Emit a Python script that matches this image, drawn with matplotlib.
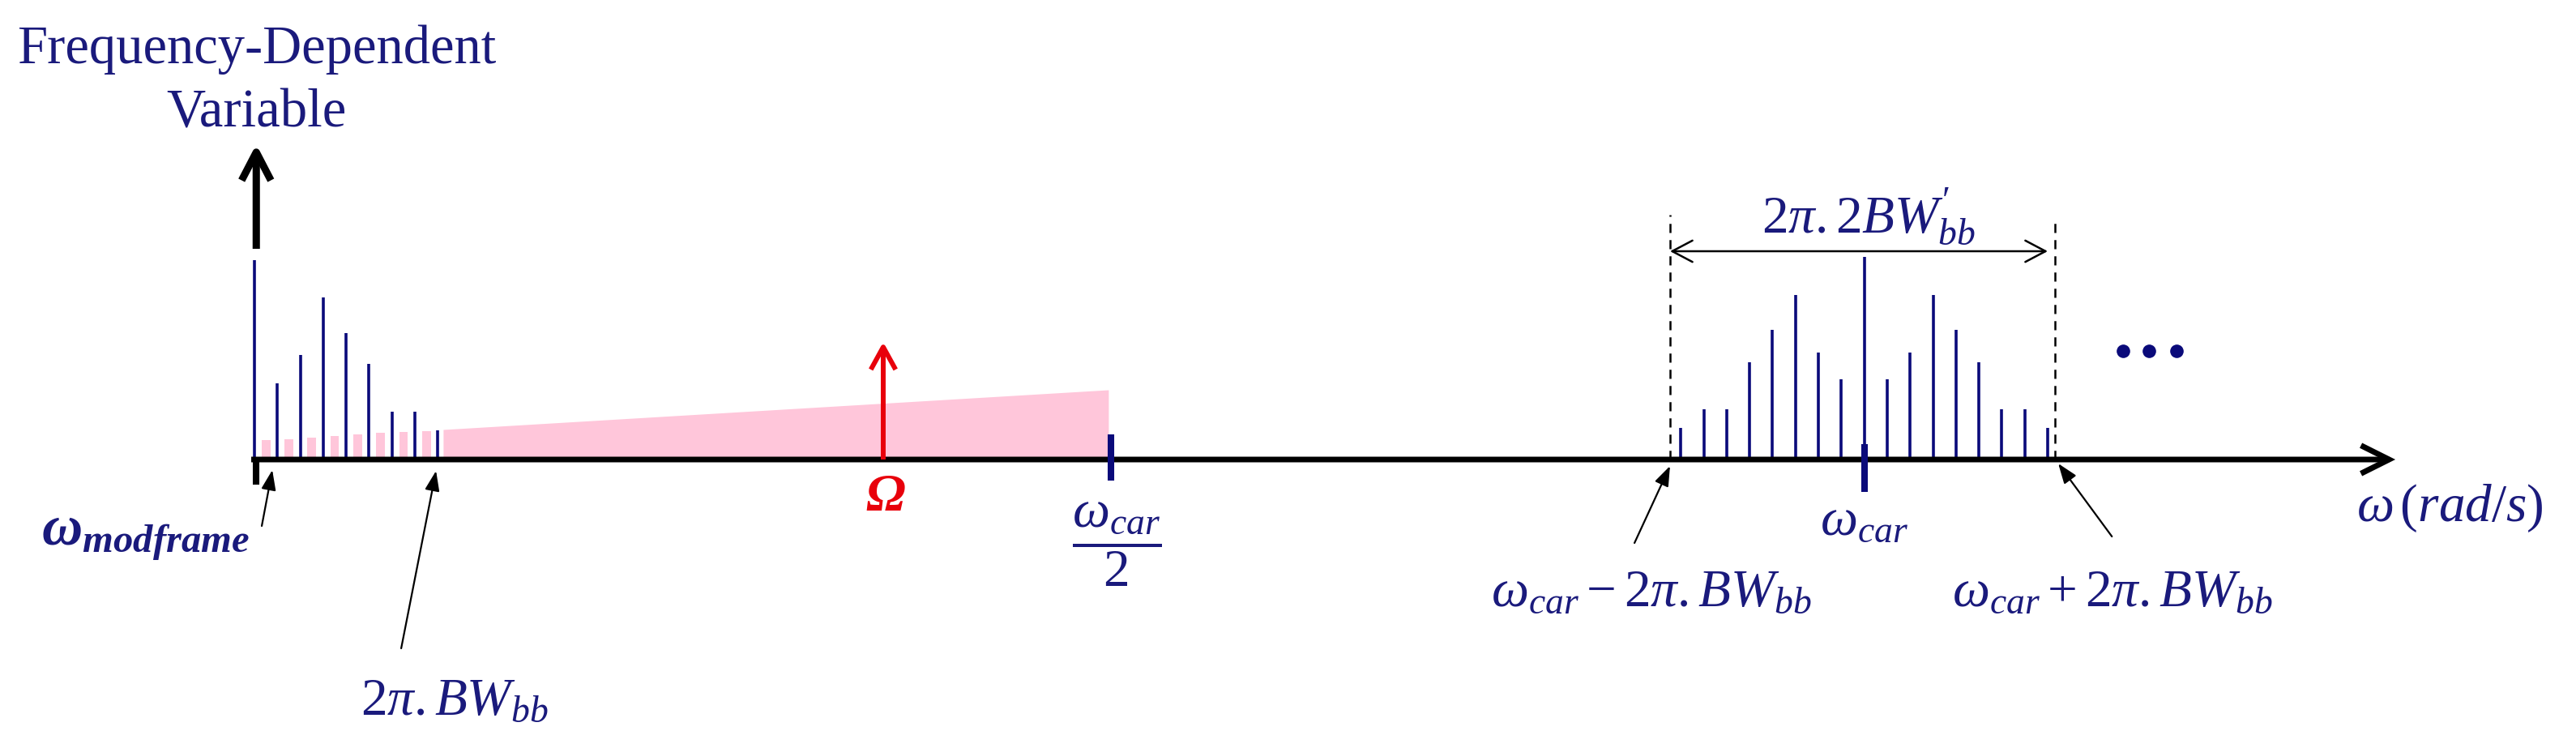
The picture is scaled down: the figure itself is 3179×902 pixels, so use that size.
import numpy as np
import matplotlib.pyplot as plt

plt.rcParams["font.family"] = ["Liberation Serif", "DejaVu Serif"]
plt.rcParams["mathtext.fontset"] = "custom"
plt.rcParams["mathtext.rm"] = "Liberation Serif"
plt.rcParams["mathtext.it"] = "Liberation Serif:italic"
plt.rcParams["mathtext.bf"] = "Liberation Serif:bold:italic"

NAVY = "#0a0a7a"
TEXT = "#1a1a7c"
PINK = "#ffc6da"
RED = "#e8000b"

# x: multiples of omega_modframe, y: amplitude (arbitrary units)
base_k = [0, 1, 2, 3, 4, 5, 6, 7, 8]
base_amp = [2.46, 0.94, 1.29, 2.00, 1.56, 1.18, 0.59, 0.59, 0.36]

# pink low-level spectrum: small blocks between lines, then a ramp
fill_k = [0.5, 1.5, 2.5, 3.5, 4.5, 5.5, 6.5, 7.5]
fill_amp = [0.24, 0.25, 0.27, 0.29, 0.31, 0.33, 0.34, 0.35]
ramp_k = [8.23, 37.24]
ramp_amp = [0.37, 0.86]

# comb around the carrier
w_car = 70.2
car_offset = [-8, -7, -6, -5, -4, -3, -2, -1, 0, 1, 2, 3, 4, 5, 6, 7, 8]
car_amp = [0.39, 0.62, 0.62, 1.20, 1.60, 2.03, 1.32, 0.99, 2.50,
           0.99, 1.32, 2.03, 1.60, 1.20, 0.62, 0.62, 0.39]
band_edges = [61.73, 78.52]
band_edge_top = [3.02, 2.94]

w_car_half = 37.35
omega_k = 27.42
omega_amp = 1.45
dots_k = [81.5, 82.6, 83.8]
axis_end = 93.36

fig = plt.figure(figsize=(31.79, 9.02), dpi=100)
ax = fig.add_axes([0, 0, 1, 1])
ax.set_xlim(-11.095, 101.237)
ax.set_ylim(-3.35, 5.67)
ax.axis("off")

# pink spectrum
ax.bar(fill_k, fill_amp, width=0.38, color=PINK, zorder=1)
ax.fill_between(ramp_k, 0, ramp_amp, color=PINK, lw=0, zorder=1)

# spectral lines
ax.vlines(base_k, 0, base_amp, color=NAVY, lw=2.6, zorder=3)
car_k = [w_car + o for o in car_offset]
ax.vlines(car_k, 0, car_amp, color=NAVY, lw=2.6, zorder=3)

# frequency axis
ax.annotate("", xy=(axis_end, 0), xytext=(-0.14, 0),
            arrowprops=dict(arrowstyle="->,head_length=2.5,head_width=1.25",
                            lw=5, color="black", shrinkA=0, shrinkB=0,
                            joinstyle="miter", capstyle="butt"), zorder=4)
ax.vlines(0.07, -0.31, 0, color="black", lw=5.8, zorder=4)

# vertical axis arrow
ax.annotate("", xy=(0.08, 3.89), xytext=(0.08, 2.60),
            arrowprops=dict(arrowstyle="->,head_length=2.5,head_width=1.3",
                            lw=6.5, color="black", shrinkA=0, shrinkB=0,
                            capstyle="butt"), zorder=4)

# marker ticks
ax.vlines(w_car_half, -0.26, 0.31, color=NAVY, lw=5.8, zorder=5)
ax.vlines(w_car, -0.40, 0.19, color=NAVY, lw=5.8, zorder=5)

# red Omega arrow
ax.annotate("", xy=(omega_k, omega_amp), xytext=(omega_k, 0),
            arrowprops=dict(arrowstyle="->,head_length=2.0,head_width=1.1",
                            lw=4.3, color=RED, shrinkA=0, shrinkB=0,
                            capstyle="butt"), zorder=4)

# band edges
ax.vlines(band_edges, 0, band_edge_top, color="black", lw=1.8,
          linestyles=(0, (4.5, 3.5)), zorder=2)
ax.annotate("", xy=(78.2, 2.57), xytext=(band_edges[0], 2.57),
            arrowprops=dict(arrowstyle="<->,head_length=1.8,head_width=0.95",
                            lw=1.8, color="black", shrinkA=0, shrinkB=0))

ax.scatter(dots_k, [1.34] * 3, s=120, color=NAVY, zorder=3)

# pointer arrows
pointer = dict(arrowstyle="-|>,head_length=1.5,head_width=0.55", lw=1.6,
               color="black", shrinkA=0, shrinkB=0)
ax.annotate("", xy=(0.78, -0.13), xytext=(0.32, -0.82), arrowprops=pointer)
ax.annotate("", xy=(7.92, -0.14), xytext=(6.4, -2.33), arrowprops=pointer)
ax.annotate("", xy=(band_edges[0], -0.08), xytext=(60.18, -1.03), arrowprops=pointer)
ax.annotate("", xy=(78.66, -0.05), xytext=(81.0, -0.95), arrowprops=pointer)

# labels
fs = 47
w = r"\mathit{\omega}"
ax.text(0.1, 4.89, "Frequency-Dependent", color=TEXT, fontsize=48,
        ha="center", va="baseline")
ax.text(0.1, 4.10, "Variable", color=TEXT, fontsize=48,
        ha="center", va="baseline")
ax.text(-4.75, -1.05, r"$\mathbf{\omega_{modframe}}$", color=TEXT,
        fontsize=50, ha="center", va="baseline")
ax.text(8.73, -3.15, r"$2\pi.BW_{bb}$", color=TEXT, fontsize=fs,
        ha="center", va="baseline")
ax.text(omega_k + 0.1, -0.63, r"$\mathbf{\Omega}$", color=RED, fontsize=fs,
        ha="center", va="baseline")
ax.text(w_car_half + 0.25, -1.05, r"$\dfrac{" + w + r"_{car}}{2}$", color=TEXT,
        fontsize=fs, ha="center", va="center")
ax.text(w_car, -0.93, "$" + w + r"_{car}$", color=TEXT, fontsize=fs,
        ha="center", va="baseline")
ax.text(60.93, -1.81, "$" + w + r"_{car}-2\pi.BW_{bb}$", color=TEXT,
        fontsize=fs, ha="center", va="baseline")
ax.text(81.03, -1.81, "$" + w + r"_{car}+2\pi.BW_{bb}$", color=TEXT,
        fontsize=fs, ha="center", va="baseline")
ax.text(95.72, -0.76, "$" + w + r"\,(rad/s)$", color=TEXT, fontsize=fs,
        ha="center", va="baseline")
ax.text(70.39, 2.80, r"$2\pi.2BW_{bb}^{\prime}$", color=TEXT, fontsize=fs,
        ha="center", va="baseline")

fig.savefig("out.png", dpi=100, facecolor="white")
